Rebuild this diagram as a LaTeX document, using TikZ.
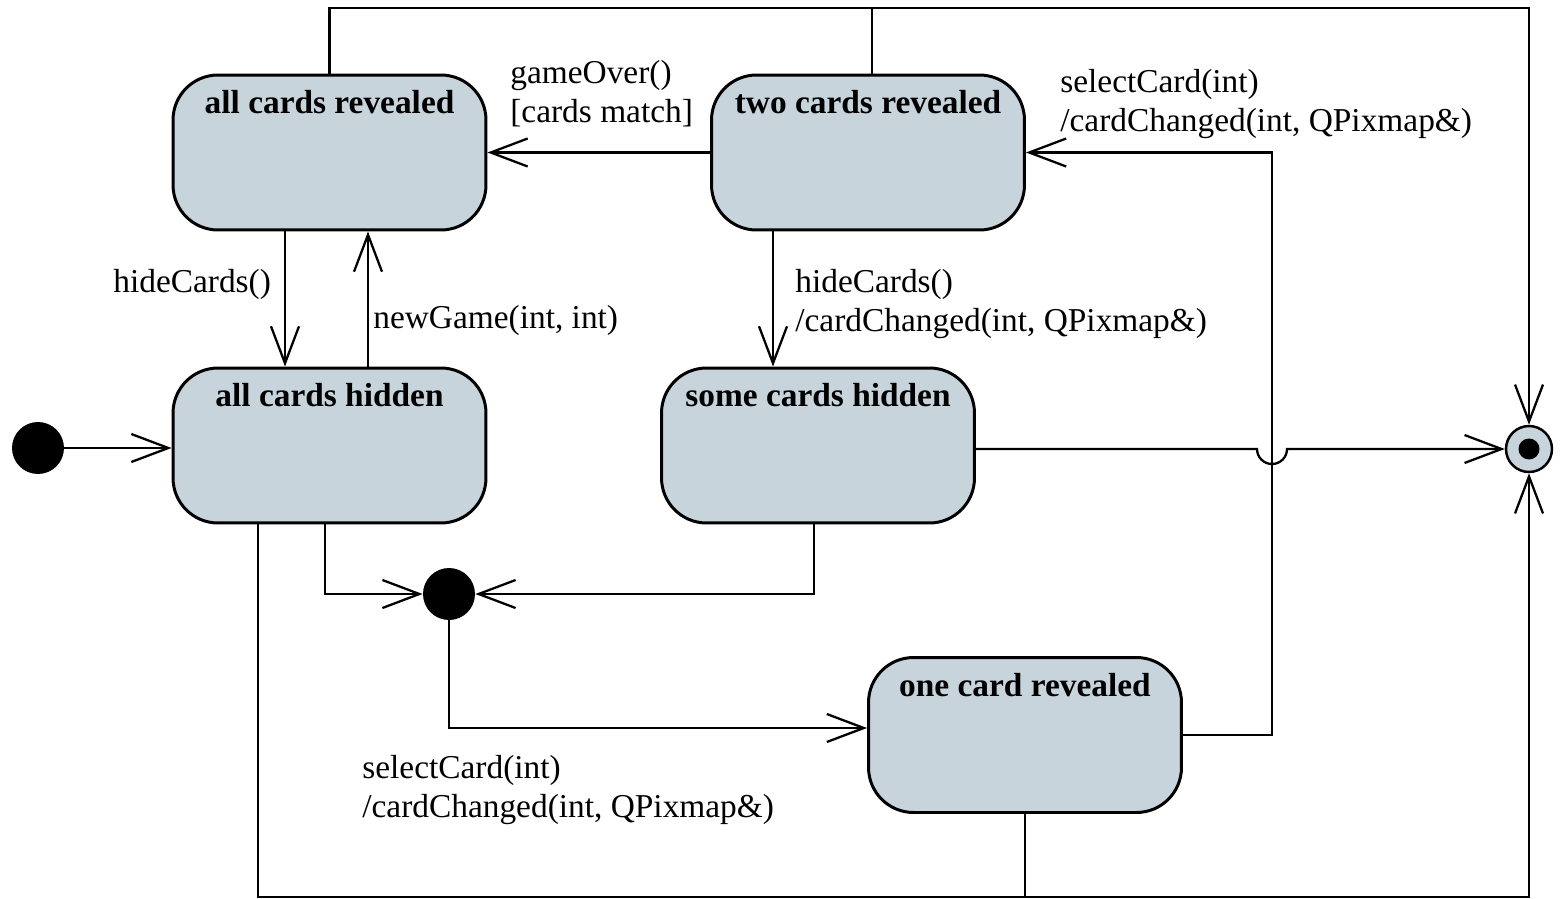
\documentclass[tikz,border=0pt]{standalone}
\usepackage{fontspec}
\setmainfont{Liberation Serif}
\usetikzlibrary{arrows.meta,calc}

\definecolor{statefill}{RGB}{200,212,220}

\tikzset{
  state/.style={draw=black, line width=1.7pt, fill=statefill,
    rounded corners=0.9cm, minimum width=6.26cm, minimum height=3.1cm,
    inner sep=0pt},
  title/.style={font=\fontsize{19}{22}\selectfont\bfseries, anchor=base, inner sep=0pt},
  lbl/.style={font=\fontsize{19}{22.1}\selectfont, anchor=base west, align=left, inner sep=0pt},
  dot/.style={circle, fill=black, minimum size=1.04cm, inner sep=0pt},
  wire/.style={line width=1.3pt},
  conn/.style={wire, -{Straight Barb[length=0.74cm, width=0.56cm]}},
}

\begin{document}
\begin{tikzpicture}[x=0.02cm, y=-0.02cm]
\useasboundingbox (0,0) rectangle (1562,899);

% states
\node[state] (acr) at (329.5,152.5) {};
\node[state] (tcr) at (868,152.5) {};
\node[state] (ach) at (329.5,445.5) {};
\node[state] (sch) at (818,445.5) {};
\node[state] (ocr) at (1025,735) {};

\node[title] (acrT) at ($(acr.north)+(0,40)$) {all cards revealed};
\node[title] (tcrT) at ($(tcr.north)+(0,40)$) {two cards revealed};
\node[title] (achT) at ($(ach.north)+(0,40)$) {all cards hidden};
\node[title] (schT) at ($(sch.north)+(0,40)$) {some cards hidden};
\node[title] (ocrT) at ($(ocr.north)+(0,40)$) {one card revealed};

% pseudo states
\node[dot] (init) at (38,448) {};
\node[dot] (junc) at (449,594) {};
\node[circle, draw=black, line width=1.4pt, fill=statefill,
      minimum size=0.92cm, inner sep=0pt] (fin) at (1529,449) {};
\node[circle, fill=black, minimum size=0.42cm, inner sep=0pt] (finc) at (fin) {};

% helper coordinates
\coordinate (topy) at (0,8);
\coordinate (boty) at (0,897);
\coordinate (rx) at (1272,450);
\coordinate (p1) at ($(tcr.south)+(-95,0)$);
\coordinate (p2) at ($(ach.south)+(-4.5,0)$);
\coordinate (p3) at ($(sch.south)+(-4,0)$);
\coordinate (p4) at ($(ocr.west)+(0,-7)$);
\coordinate (p5) at ($(ach.south)+(-71.5,0)$);
\coordinate (p6) at ($(tcr.north)+(4,0)$);
\coordinate (hcA) at ($(acr.south)+(-44.5,0)$);
\coordinate (ngA) at ($(ach.north)+(38.5,0)$);
\coordinate (jmp) at (rx |- fin);

% transitions
\draw[conn] (init) -- (init -| ach.west);
\draw[conn] (hcA) -- (hcA |- ach.north);
\draw[conn] (ngA) -- (ngA |- acr.south);
\draw[conn] (tcr.west) -- (acr.east);
\draw[conn] (p1) -- (p1 |- sch.north);
\draw[conn] (ocr.east) -| (rx) |- (tcr.east);
\draw[conn] (sch.east |- fin) -- ($(jmp)+(-15,0)$)
  .. controls +(0,8.3) and +(-8.3,0) .. ($(jmp)+(0,15)$)
  .. controls +(8.3,0) and +(0,8.3) .. ($(jmp)+(15,0)$)
  -- (fin.west);
\draw[conn] (p2) |- (junc.west);
\draw[conn] (p3) |- (junc.east);
\draw[conn] (junc.south) |- (p4);
\draw[conn] (acr.north) -- (acr.north |- topy) -| (fin.north);
\draw[wire] (p6) -- (p6 |- topy);
\draw[conn] (p5) -- (p5 |- boty) -| (fin.south);
\draw[wire] (ocr.south) -- (ocr.south |- boty);

% transition labels (multi-line labels are placed by their last baseline)
\node[lbl] (l1) at (113,292) {hideCards()};
\node[lbl] (l2) at (373,328) {newGame(int, int)};
\node[lbl] (l3) at (510,122) {gameOver()\\{}[cards match]};
\node[lbl] (l4) at (795,331) {hideCards()\\/cardChanged(int, QPixmap\&)};
\node[lbl] (l5) at (1060,131) {selectCard(int)\\/cardChanged(int, QPixmap\&)};
\node[lbl] (l6) at (362,817) {selectCard(int)\\/cardChanged(int, QPixmap\&)};
\end{tikzpicture}
\end{document}
